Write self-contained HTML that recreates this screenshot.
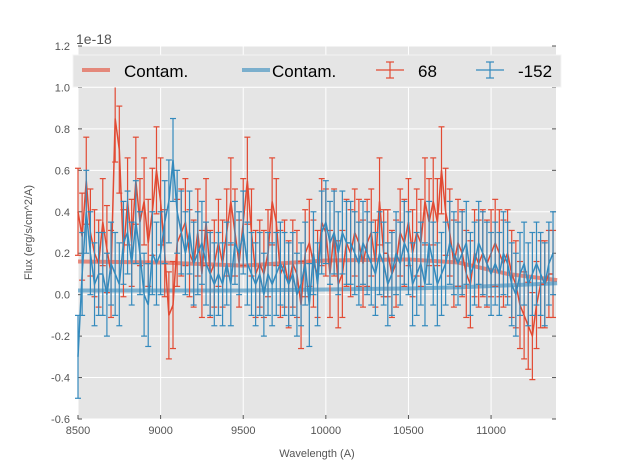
<!DOCTYPE html>
<html><head><meta charset="utf-8"><style>
body{margin:0;background:#fff;}
svg{display:block;font-family:"Liberation Sans",sans-serif;}
</style></head><body>
<svg id="chart" width="617" height="467"></svg>
<script>
const wavelengths = [8500,8525,8550,8575,8600,8625,8650,8675,8700,8725,8750,8775,8800,8825,8850,8875,8900,8925,8950,8975,9000,9025,9050,9075,9100,9125,9150,9175,9200,9225,9250,9275,9300,9325,9350,9375,9400,9425,9450,9475,9500,9525,9550,9575,9600,9625,9650,9675,9700,9725,9750,9775,9800,9825,9850,9875,9900,9925,9950,9975,10000,10025,10050,10075,10100,10125,10150,10175,10200,10225,10250,10275,10300,10325,10350,10375,10400,10425,10450,10475,10500,10525,10550,10575,10600,10625,10650,10675,10700,10725,10750,10775,10800,10825,10850,10875,10900,10925,10950,10975,11000,11025,11050,11075,11100,11125,11150,11175,11200,11225,11250,11275,11300,11325,11350,11375];
const flux68 = [0.40,0.28,0.55,0.30,0.20,0.15,0.35,0.22,0.10,0.85,0.70,0.20,0.45,0.25,0.55,0.35,0.45,0.25,0.40,0.60,0.45,0.20,-0.10,-0.05,0.25,0.30,0.35,0.20,0.15,0.30,0.10,0.35,0.10,0.15,0.25,0.15,0.30,0.45,0.30,0.15,0.35,0.55,0.30,0.10,0.15,0.10,0.20,0.45,0.35,0.10,0.15,0.05,0.15,0.10,-0.05,0.20,0.25,0.15,0.10,0.35,0.30,0.10,0.30,0.05,0.10,0.25,0.20,0.30,0.25,0.15,0.25,0.30,0.15,0.45,0.20,0.20,0.10,0.15,0.30,0.25,0.35,0.20,0.30,0.25,0.45,0.35,0.45,0.35,0.60,0.40,0.30,0.15,0.25,0.20,0.10,0.05,0.20,0.15,0.20,0.15,0.20,0.25,0.20,0.15,0.20,0.10,0.05,-0.05,-0.10,-0.15,-0.20,-0.05,0.05,0.05,0.10,0.10];
const fluxM152 = [-0.30,0.10,0.40,0.20,0.05,0.10,0.10,0.00,0.15,0.10,0.05,0.25,0.30,0.15,0.35,0.20,0.00,-0.05,0.20,0.15,0.20,0.35,0.45,0.65,0.40,0.30,0.20,0.30,0.15,0.20,0.25,0.15,0.10,0.05,0.10,0.05,0.15,0.05,0.25,0.20,0.30,0.15,0.10,0.05,0.10,0.00,0.10,0.05,0.10,0.15,0.10,0.05,0.10,0.00,0.05,0.15,-0.05,0.20,0.05,0.30,0.35,0.25,0.30,0.20,0.30,0.25,0.25,0.20,0.15,0.25,0.20,0.15,0.10,0.20,0.15,0.05,0.10,0.20,0.15,0.25,0.20,0.05,0.10,0.15,0.05,0.25,0.15,0.05,0.10,0.15,0.25,0.20,0.15,0.20,0.25,0.10,0.15,0.25,0.20,0.15,0.10,0.15,0.10,0.20,0.15,0.05,0.00,0.10,0.15,0.05,0.10,0.15,0.10,0.05,0.15,0.20];
const err68 = 0.21;
const errM152 = 0.2;
const contamX = [8500,9000,9500,10000,10500,10800,11100,11400];
const contam68 = [0.16,0.155,0.14,0.165,0.17,0.155,0.10,0.07];
const contamM152 = [0.02,0.02,0.02,0.025,0.03,0.035,0.045,0.055];
const xTicks = [8500,9000,9500,10000,10500,11000];
const yTicks = [-0.6,-0.4,-0.2,0.0,0.2,0.4,0.6,0.8,1.0,1.2];

const NS="http://www.w3.org/2000/svg";
const svg=document.getElementById('chart');
const L=78,R=556,T=46,B=419;
const xMin=8500,xMax=11393,yMin=-0.6,yMax=1.2;
const sx=v=>L+(v-xMin)/(xMax-xMin)*(R-L);
const sy=v=>B-(v-yMin)/(yMax-yMin)*(B-T);
function mk(tag,attrs,parent){const e=document.createElementNS(NS,tag);for(const k in attrs)e.setAttribute(k,attrs[k]);(parent||svg).appendChild(e);return e;}

const bg=mk('rect',{x:L,y:T,width:R-L,height:B-T,fill:'#e5e5e5'});


const grid=mk('g',{stroke:'#fff','stroke-width':1});


const xt=mk('g',{'font-size':11,fill:'#555','text-anchor':'middle'});


xTicks.forEach(v=>{const x=sx(v);mk('line',{x1:x,x2:x,y1:T,y2:B},grid);
 mk('line',{x1:x,x2:x,y1:B,y2:B-4,stroke:'#555'},svg);
 const t=mk('text',{x:x,y:B+15},xt);t.textContent=v;});
const yt=mk('g',{'font-size':11,fill:'#555','text-anchor':'end'});


yTicks.forEach(v=>{const y=sy(v);mk('line',{x1:L,x2:R,y1:y,y2:y},grid);
 mk('line',{x1:L,x2:L+4,y1:y,y2:y,stroke:'#555'},svg);mk('line',{x1:R,x2:R-4,y1:y,y2:y,stroke:'#555'},svg);
 const t=mk('text',{x:L-8,y:y+4},yt);t.textContent=v.toFixed(1);});

function contam(arr,color,name){
 const p=mk('polyline',{points:contamX.map((x,i)=>sx(x)+','+sy(arr[i])).join(' '),fill:'none',stroke:color,'stroke-width':4,'stroke-opacity':0.6});
 
 
}
function series(arr,err,color,name){
 const g=mk('g',{stroke:color,'stroke-width':1.2,fill:'none'});
 
 
 wavelengths.forEach((w,i)=>{const x=sx(w),y1=sy(arr[i]-err),y2=sy(arr[i]+err);
  mk('line',{x1:x,x2:x,y1:y1,y2:y2},g);
  mk('line',{x1:x-3,x2:x+3,y1:y1,y2:y1},g);
  mk('line',{x1:x-3,x2:x+3,y1:y2,y2:y2},g);});
 mk('polyline',{points:wavelengths.map((w,i)=>sx(w)+','+sy(arr[i])).join(' '),'stroke-width':1.5},g);
}
contam(contam68,'#E24A33','contam-line-68');
contam(contamM152,'#348ABD','contam-line-m152');
series(flux68,err68,'#E24A33','series-68');
series(fluxM152,errM152,'#348ABD','series-m152');

// legend
const lg=mk('g',{});


mk('rect',{x:73,y:55,width:488,height:32,fill:'#e5e5e5',stroke:'#f4f4f4','stroke-width':1},lg);
function lt(x,txt,name){const t=mk('text',{x:x,y:77,'font-size':17,fill:'#000'},lg);t.textContent=txt;}
mk('line',{x1:82,x2:110,y1:70,y2:70,stroke:'#E24A33','stroke-width':4,'stroke-opacity':0.6},lg);
lt(124,'Contam.','legend-contam-68');
mk('line',{x1:242,x2:270,y1:70,y2:70,stroke:'#348ABD','stroke-width':4,'stroke-opacity':0.6},lg);
lt(272,'Contam.','legend-contam-m152');
[[376,'#E24A33','68',418,'legend-68'],[476,'#348ABD','-152',518,'legend-m152']].forEach(a=>{
 const x0=a[0],c=a[1];
 mk('line',{x1:x0,x2:x0+28,y1:70,y2:70,stroke:c,'stroke-width':1.2},lg);
 mk('line',{x1:x0+14,x2:x0+14,y1:62,y2:78,stroke:c,'stroke-width':1.2},lg);
 mk('line',{x1:x0+10,x2:x0+18,y1:62,y2:62,stroke:c,'stroke-width':1.2},lg);
 mk('line',{x1:x0+10,x2:x0+18,y1:78,y2:78,stroke:c,'stroke-width':1.2},lg);
 lt(a[3],a[2],a[4]);
});

const off=mk('text',{x:76,y:44,'font-size':14,fill:'#555'});off.textContent='1e-18';


const xl=mk('text',{x:(L+R)/2,y:457,'font-size':11,fill:'#555','text-anchor':'middle'});xl.textContent='Wavelength (A)';


const yl=mk('text',{x:0,y:0,'font-size':11,fill:'#555','text-anchor':'middle',transform:'translate(32,'+((T+B)/2)+') rotate(-90)'});yl.textContent='Flux (erg/s/cm^2/A)';


</script>
</body></html>
